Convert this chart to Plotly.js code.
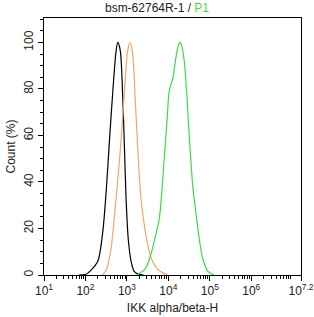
<!DOCTYPE html>
<html>
<head>
<meta charset="utf-8">
<script src="https://cdn.plot.ly/plotly-3.0.1.min.js"></script>
<style>
  html, body { margin: 0; padding: 0; background: #fff; }
  #chart { width: 314px; height: 317px; }
</style>
</head>
<body>
<div id="chart"></div>
<script>
// Flow cytometry overlay: log10 fluorescence intensity vs. normalised count (%)
const blackLogFL = [1.84, 2.01, 2.13, 2.30, 2.42, 2.50, 2.58, 2.66, 2.74, 2.78, 2.84, 2.90, 2.94, 2.98, 3.03, 3.10, 3.18, 3.29, 3.40];
const blackCount = [0.0, 0.3, 2.0, 6.0, 19, 36, 58, 79, 96.5, 100, 96.5, 76, 55, 33, 16, 6, 1.4, 0.3, 0.0];

const orangeLogFL = [2.40, 2.50, 2.62, 2.74, 2.86, 2.94, 3.02, 3.075, 3.14, 3.20, 3.26, 3.34, 3.46, 3.58, 3.74, 3.90, 4.00];
const orangeCount = [0.0, 2.0, 11.8, 33, 58, 79, 96.5, 100, 95, 76, 55, 33, 17, 7.5, 2.5, 0.6, 0.0];

const greenLogFL = [3.20, 3.30, 3.46, 3.58, 3.70, 3.78, 3.84, 3.90, 3.97, 4.02, 4.08, 4.11, 4.16, 4.23, 4.28, 4.33, 4.39, 4.45, 4.51, 4.59, 4.67, 4.75, 4.83, 4.95, 5.03, 5.10];
const greenCount = [0.0, 0.6, 3.1, 9, 17.5, 24, 35, 50, 67, 79, 83, 84.5, 91, 98, 100, 98, 91, 76, 58, 38, 26, 15, 7, 1.7, 0.6, 0.0];

const xTickExp = [1, 2, 3, 4, 5, 6, 7.2];
const xTickText = ["10<sup>1</sup>", "10<sup>2</sup>", "10<sup>3</sup>", "10<sup>4</sup>", "10<sup>5</sup>", "10<sup>6</sup>", "10<sup>7.2</sup>"];
const yTickVals = [0, 20, 40, 60, 80, 100];

const titleMain = "bsm-62764R-1";
const titleGate = "P1";
const xLabel = "IKK alpha/beta-H";
const yLabel = "Count (%)";

const toLinear = arr => arr.map(v => Math.pow(10, v));

// minor ticks at 2..9 within each decade of the axis
const minorX = [];
for (let d = 1; d <= 7; d++) {
  for (let m = 2; m <= 9; m++) {
    const v = m * Math.pow(10, d);
    if (Math.log10(v) < 7.2) minorX.push(v);
  }
}
const minorY = [];
for (let v = 0; v <= 110; v += 5) if (v % 20 !== 0) minorY.push(v);

const lineTrace = (xs, ys, color) => ({
  x: toLinear(xs), y: ys, type: "scatter", mode: "lines",
  line: { color: color, width: 1.2, shape: "spline", smoothing: 0.8 },
  hoverinfo: "skip", showlegend: false
});

const data = [
  lineTrace(blackLogFL, blackCount, "#000000"),
  lineTrace(orangeLogFL, orangeCount, "#f2a66a"),
  lineTrace(greenLogFL, greenCount, "#3fdc3f")
];

const fontFam = "'Liberation Sans', Arial, sans-serif";

const layout = {
  width: 314, height: 317,
  margin: { l: 44, r: 13, t: 18, b: 42 },
  paper_bgcolor: "#fff", plot_bgcolor: "#fff",
  font: { family: fontFam, size: 12, color: "#222" },
  title: {
    text: titleMain + "<span style='color:#222'> / </span><span style='color:#3fdc3f'>" + titleGate + "</span>",
    font: { family: fontFam, size: 12, color: "#222" },
    x: 0.5, xanchor: "center", y: 0.975, yanchor: "middle"
  },
  xaxis: {
    type: "log", range: [1, 7.2],
    tickmode: "array", tickvals: xTickExp.map(e => Math.pow(10, e)), ticktext: xTickText,
    ticks: "outside", ticklen: 5, tickwidth: 1, tickcolor: "#000",
    minor: { tickmode: "array", tickvals: minorX, ticks: "outside", ticklen: 3, tickwidth: 1, tickcolor: "#000", showgrid: false },
    showline: true, linecolor: "#000", linewidth: 1, mirror: true,
    showgrid: false, zeroline: false,
    tickfont: { family: fontFam, size: 12, color: "#222" },
    title: { text: xLabel, font: { family: fontFam, size: 12, color: "#222" }, standoff: 6 }
  },
  yaxis: {
    range: [0, 110.5],
    tickmode: "array", tickvals: yTickVals, tickangle: -90,
    ticks: "outside", ticklen: 5, tickwidth: 1, tickcolor: "#000",
    minor: { tickmode: "array", tickvals: minorY, ticks: "outside", ticklen: 3, tickwidth: 1, tickcolor: "#000", showgrid: false },
    showline: true, linecolor: "#000", linewidth: 1, mirror: true,
    showgrid: false, zeroline: false,
    tickfont: { family: fontFam, size: 12, color: "#222" },
    title: { text: yLabel, font: { family: fontFam, size: 12, color: "#222" }, standoff: 4 }
  }
};

Plotly.newPlot("chart", data, layout, { displayModeBar: false, staticPlot: true });
</script>
</body>
</html>
